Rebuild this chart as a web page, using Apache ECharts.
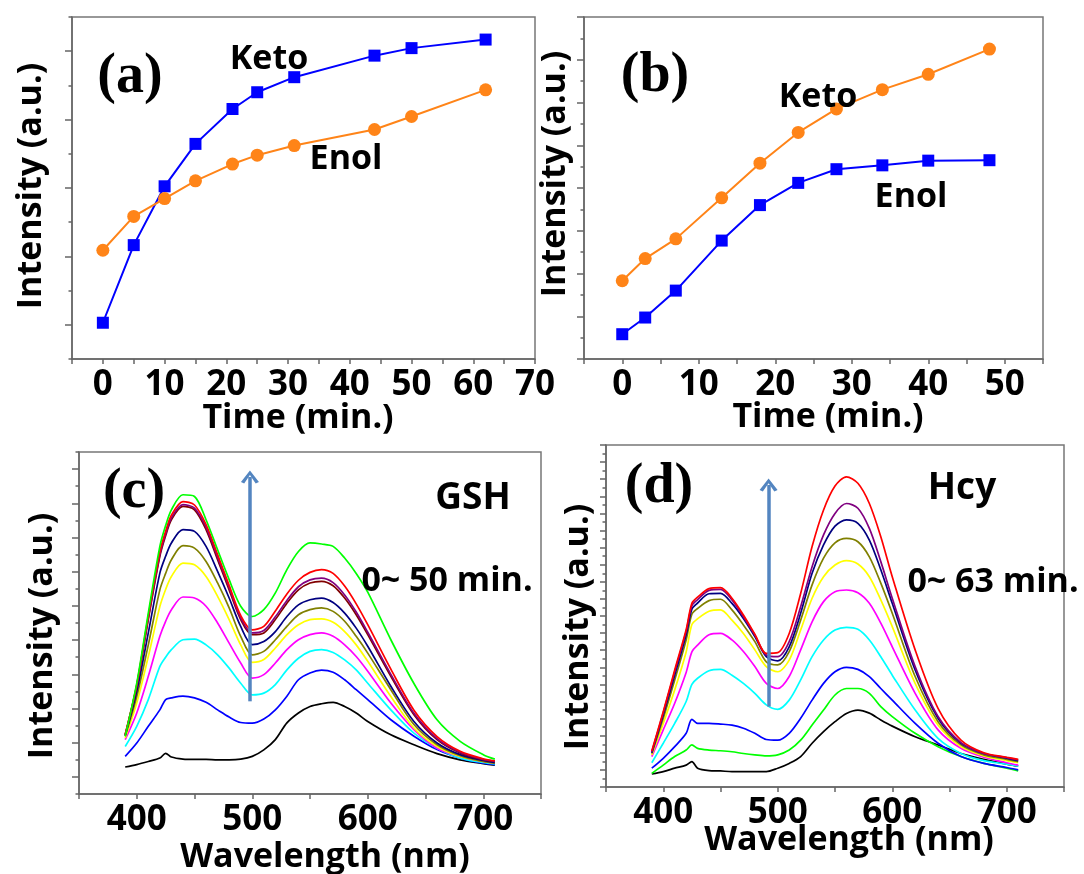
<!DOCTYPE html>
<html lang="en">
<head>
<meta charset="UTF-8">
<title>Keto / Enol</title>
<script src="https://cdn.jsdelivr.net/npm/echarts@6/dist/echarts.min.js"></script>
<style>
    html, body { margin: 0; padding: 0; background: #fff; }
    #main { width: 1084px; height: 874px; }
</style>
</head>
<body>
<div id="main"></div>
<script>
// (a) and (b): intensity against time, arbitrary units
var timeA = [0, 5, 10, 15, 21, 25, 31, 44, 50, 62];
var ketoA = [1.06, 3.33, 5.05, 6.29, 7.31, 7.80, 8.24, 8.87, 9.09, 9.34];
var enolA = [3.18, 4.17, 4.69, 5.21, 5.70, 5.96, 6.24, 6.71, 7.09, 7.87];

var timeB = [0, 3, 7, 13, 18, 23, 28, 34, 40, 48];
var ketoB = [1.83, 2.35, 2.81, 3.77, 4.58, 5.30, 5.85, 6.30, 6.66, 7.25];
var enolB = [0.58, 0.97, 1.60, 2.77, 3.60, 4.12, 4.44, 4.53, 4.64, 4.65];

// (c) and (d): emission spectra, sampled wavelengths (nm)
var wl = [390, 400, 410, 420, 425, 430, 440, 450, 460, 470, 480, 490, 500, 510, 520,
          530, 540, 550, 560, 570, 580, 590, 600, 620, 640, 660, 680, 700, 710];

var gshBlack   = [0.79,0.86,0.95,1.05,1.19,1.08,1.02,1.01,1.01,1.00,1.00,1.02,1.10,1.29,1.59,2.08,2.37,2.56,2.64,2.68,2.56,2.37,2.12,1.73,1.44,1.18,1.00,0.89,0.84];
var gshBlue    = [1.10,1.49,1.98,2.46,2.76,2.81,2.86,2.81,2.68,2.46,2.25,2.09,2.07,2.19,2.46,2.86,3.34,3.54,3.62,3.56,3.34,3.05,2.76,2.17,1.69,1.30,1.05,0.90,0.86];
var gshCyan    = [1.39,1.98,2.76,3.73,4.00,4.22,4.51,4.53,4.36,4.07,3.68,3.24,2.90,2.95,3.20,3.63,3.97,4.17,4.22,4.14,3.92,3.63,3.24,2.46,1.78,1.34,1.05,0.92,0.88];
var gshMagenta = [1.59,2.37,3.44,4.61,5.05,5.39,5.76,5.73,5.49,5.00,4.41,3.83,3.39,3.49,3.83,4.22,4.51,4.66,4.71,4.61,4.36,4.02,3.59,2.66,1.88,1.34,1.10,0.95,0.90];
var gshYellow  = [1.64,2.66,4.02,5.48,5.98,6.36,6.75,6.70,6.36,5.78,5.10,4.36,3.85,3.93,4.27,4.66,4.95,5.10,5.12,5.02,4.75,4.36,3.88,2.85,1.93,1.39,1.10,0.95,0.90];
var gshOlive   = [1.69,2.85,4.36,5.97,6.45,6.85,7.26,7.19,6.80,6.17,5.44,4.61,4.07,4.17,4.51,4.90,5.24,5.39,5.44,5.34,5.05,4.61,4.12,3.05,2.03,1.44,1.12,0.95,0.90];
var gshNavy    = [1.71,3.00,4.71,6.46,6.95,7.34,7.73,7.68,7.24,6.51,5.73,4.90,4.37,4.46,4.75,5.19,5.53,5.68,5.73,5.60,5.29,4.85,4.32,3.15,2.12,1.49,1.15,0.98,0.92];
var gshBrown   = [1.73,3.15,5.10,6.95,7.55,8.02,8.41,8.31,7.73,6.85,5.97,5.10,4.66,4.71,5.10,5.58,5.97,6.17,6.22,6.09,5.73,5.24,4.66,3.44,2.32,1.59,1.20,1.00,0.95];
var gshPurple  = [1.73,3.17,5.15,7.00,7.60,8.07,8.46,8.36,7.80,6.92,6.03,5.15,4.71,4.78,5.18,5.66,6.06,6.26,6.31,6.18,5.82,5.32,4.73,3.50,2.36,1.62,1.22,1.01,0.96];
var gshRed     = [1.74,3.20,5.20,7.08,7.68,8.15,8.55,8.45,7.88,7.00,6.10,5.22,4.80,4.90,5.35,5.85,6.25,6.48,6.56,6.45,6.08,5.56,4.95,3.65,2.45,1.68,1.25,1.03,0.97];
var gshGreen   = [1.69,3.24,5.29,7.24,7.85,8.31,8.75,8.70,8.02,7.14,6.27,5.49,5.19,5.39,5.88,6.56,7.09,7.34,7.31,7.24,6.90,6.45,5.90,4.51,3.23,2.17,1.54,1.15,1.02];

var hcyBlack   = [0.38,0.45,0.55,0.64,0.74,0.55,0.48,0.47,0.45,0.45,0.45,0.45,0.55,0.69,0.89,1.28,1.62,1.91,2.15,2.25,2.16,1.96,1.78,1.47,1.23,0.98,0.81,0.67,0.61];
var hcyGreen   = [0.40,0.64,0.89,1.08,1.23,1.13,1.08,1.06,1.03,0.98,0.94,0.91,0.94,1.08,1.37,1.81,2.25,2.69,2.88,2.88,2.74,2.35,2.06,1.57,1.18,0.89,0.69,0.55,0.47];
var hcyBlue    = [0.55,0.84,1.18,1.57,1.98,1.86,1.86,1.84,1.81,1.72,1.57,1.39,1.37,1.57,2.01,2.54,3.03,3.37,3.50,3.44,3.23,2.88,2.54,1.86,1.28,0.89,0.69,0.57,0.50];
var hcyCyan    = [0.71,1.28,1.86,2.50,3.00,3.18,3.40,3.44,3.27,3.03,2.74,2.40,2.27,2.54,3.13,3.81,4.30,4.59,4.67,4.61,4.30,3.81,3.27,2.25,1.42,0.98,0.77,0.67,0.61];
var hcyMagenta = [0.89,1.67,2.45,3.35,3.95,4.15,4.45,4.49,4.30,3.96,3.52,3.03,2.88,3.23,4.01,4.83,5.42,5.71,5.76,5.68,5.37,4.79,4.10,2.74,1.67,1.13,0.87,0.71,0.64];
var hcyYellow  = [0.94,1.86,2.84,3.95,4.75,4.92,5.14,5.18,4.88,4.49,4.01,3.52,3.37,3.71,4.59,5.52,6.15,6.49,6.62,6.52,6.15,5.47,4.69,3.03,1.81,1.18,0.91,0.77,0.71];
var hcyOlive   = [0.98,2.01,3.13,4.30,5.05,5.22,5.45,5.49,5.18,4.74,4.25,3.66,3.57,3.96,4.88,5.91,6.69,7.14,7.27,7.17,6.73,5.96,5.08,3.23,1.91,1.23,0.94,0.81,0.74];
var hcyNavy    = [1.00,2.11,3.27,4.45,5.20,5.38,5.65,5.66,5.37,4.93,4.40,3.81,3.69,4.10,5.08,6.25,7.08,7.63,7.81,7.71,7.22,6.35,5.37,3.42,2.01,1.28,0.98,0.84,0.77];
var hcyPurple  = [1.03,2.17,3.37,4.55,5.30,5.48,5.75,5.78,5.47,4.98,4.44,3.86,3.81,4.25,5.27,6.44,7.37,8.00,8.29,8.15,7.56,6.59,5.52,3.52,2.06,1.30,0.98,0.86,0.79];
var hcyRed     = [1.05,2.20,3.42,4.60,5.37,5.55,5.80,5.83,5.52,5.03,4.47,3.91,3.93,4.49,5.66,7.03,8.10,8.80,9.07,8.88,8.29,7.32,6.15,4.01,2.30,1.37,1.00,0.87,0.81];

var gshCurves = [
    [gshBlack, '#000000'], [gshBlue, '#0000ff'], [gshCyan, '#00ffff'], [gshMagenta, '#ff00ff'],
    [gshYellow, '#ffff00'], [gshOlive, '#808000'], [gshNavy, '#000080'], [gshBrown, '#800000'],
    [gshPurple, '#800080'], [gshRed, '#ff0000'], [gshGreen, '#00ff00']
];
var hcyCurves = [
    [hcyBlack, '#000000'], [hcyGreen, '#00ff00'], [hcyBlue, '#0000ff'], [hcyCyan, '#00ffff'],
    [hcyMagenta, '#ff00ff'], [hcyYellow, '#ffff00'], [hcyOlive, '#808000'], [hcyNavy, '#000080'],
    [hcyPurple, '#800080'], [hcyRed, '#ff0000']
];

// arrows (data coords): wavelength, from, to
var arrowC = [498, 2.71, 9.27];
var arrowD = [492, 2.35, 8.83];

var axisColor = '#666';
var sans = 'Open Sans';
var tickFont = { fontSize: 35, fontWeight: 'bold', fontFamily: sans, color: '#000', margin: 9 };

function pairs(xs, ys) {
    return xs.map(function (x, i) { return [x, ys[i]]; });
}

function xAxisOf(grid, min, max, interval, step) {
    return {
        type: 'value', gridIndex: grid, min: min, max: max, interval: interval,
        axisLine: { onZero: false, lineStyle: { color: axisColor, width: 1.5 } },
        axisTick: { length: 5, lineStyle: { color: axisColor, width: 1.5 } },
        axisLabel: Object.assign({
            formatter: function (v) { return (v >= 0 && v % step === 0) ? String(v) : ''; }
        }, tickFont),
        splitLine: { show: false }
    };
}

function yAxisOf(grid, max, interval, tickLen, minorLen) {
    return {
        type: 'value', gridIndex: grid, min: 0, max: max, interval: interval,
        axisLine: { show: true, onZero: false, lineStyle: { color: axisColor, width: 1.5 } },
        axisTick: { show: true, length: tickLen, lineStyle: { color: axisColor, width: 1.5 } },
        minorTick: { show: true, splitNumber: 2, length: minorLen, lineStyle: { color: axisColor, width: 1.5 } },
        axisLabel: { show: false },
        splitLine: { show: false },
        minorSplitLine: { show: false }
    };
}

function gridOf(left, top, width, height) {
    return { left: left, top: top, width: width, height: height, show: true,
             borderColor: '#777', borderWidth: 1.5, backgroundColor: 'transparent' };
}

var series = [
    { type: 'line', xAxisIndex: 0, yAxisIndex: 0, data: pairs(timeA, ketoA),
      symbol: 'rect', symbolSize: 12, itemStyle: { color: '#0000ff' }, lineStyle: { color: '#0000ff', width: 2 } },
    { type: 'line', xAxisIndex: 0, yAxisIndex: 0, data: pairs(timeA, enolA),
      symbol: 'circle', symbolSize: 13, itemStyle: { color: '#ff8418' }, lineStyle: { color: '#ff8418', width: 2 } },
    { type: 'line', xAxisIndex: 1, yAxisIndex: 1, data: pairs(timeB, ketoB),
      symbol: 'circle', symbolSize: 13, itemStyle: { color: '#ff8418' }, lineStyle: { color: '#ff8418', width: 2 } },
    { type: 'line', xAxisIndex: 1, yAxisIndex: 1, data: pairs(timeB, enolB),
      symbol: 'rect', symbolSize: 12, itemStyle: { color: '#0000ff' }, lineStyle: { color: '#0000ff', width: 2 } }
];

function addSpectra(curves, idx) {
    curves.forEach(function (c) {
        series.push({
            type: 'line', xAxisIndex: idx, yAxisIndex: idx, data: pairs(wl, c[0]),
            showSymbol: false, smooth: 0.3, lineStyle: { color: c[1], width: 1.7 }
        });
    });
}
addSpectra(gshCurves, 2);
addSpectra(hcyCurves, 3);

function arrowSeries(idx, a) {
    return {
        type: 'line', xAxisIndex: idx, yAxisIndex: idx, data: [], z: 5,
        markLine: {
            silent: true, animation: false,
            symbol: ['none', 'path://M0,10 L5,0 L10,10 L8.2,11.2 L5,4 L1.8,11.2 Z'],
            symbolSize: [18, 13],
            lineStyle: { color: '#5385c0', width: 3.5, type: 'solid' },
            emphasis: { disabled: true },
            label: { show: false },
            data: [[{ coord: [a[0], a[1]] }, { coord: [a[0], a[2]] }]]
        }
    };
}
series.push(arrowSeries(2, arrowC));
series.push(arrowSeries(3, arrowD));

function txt(x, y, s, size, family, rot) {
    return {
        type: 'text', x: x, y: y, rotation: rot || 0, z: 10,
        style: { text: s, fontSize: size, fontWeight: 'bold', fontFamily: family || sans,
                 fill: '#000', align: 'center', verticalAlign: 'middle' }
    };
}
var serif = 'Liberation Serif';

var chart = echarts.init(document.getElementById('main'));
chart.setOption({
    animation: false,
    grid: [
        gridOf(72, 17, 463, 342),
        gridOf(584, 17, 459, 342),
        gridOf(79, 452, 462, 342),
        gridOf(606, 445, 458, 342)
    ],
    xAxis: [
        xAxisOf(0, -5, 70, 5, 10),
        xAxisOf(1, -5, 55, 5, 10),
        xAxisOf(2, 350, 750, 50, 100),
        xAxisOf(3, 350, 750, 50, 100)
    ],
    yAxis: [
        yAxisOf(0, 10, 2, 3.5, 7),
        yAxisOf(1, 8, 1, 7, 3.5),
        yAxisOf(2, 10, 1, 3.5, 7),
        yAxisOf(3, 10, 0.5, 6, 3.5)
    ],
    series: series,
    graphic: [
        txt(130, 78, '(a)', 56, serif),
        txt(269, 59, 'Keto', 34),
        txt(346, 159, 'Enol', 34),
        txt(31, 186, 'Intensity (a.u.)', 34, sans, Math.PI / 2),
        txt(298, 418, 'Time (min.)', 34),

        txt(655, 77, '(b)', 56, serif),
        txt(818, 97, 'Keto', 34),
        txt(911, 197, 'Enol', 34),
        txt(555, 174, 'Intensity (a.u.)', 34, sans, Math.PI / 2),
        txt(828, 417, 'Time (min.)', 34),

        txt(134, 493, '(c)', 56, serif),
        txt(473, 498, 'GSH', 37),
        txt(447, 581, '0~ 50 min.', 34),
        txt(42, 636, 'Intensity (a.u.)', 34, sans, Math.PI / 2),
        txt(325, 857, 'Wavelength (nm)', 34),

        txt(659, 488, '(d)', 56, serif),
        txt(962, 488, 'Hcy', 37),
        txt(993, 582, '0~ 63 min.', 34),
        txt(578, 627, 'Intensity (a.u.)', 34, sans, Math.PI / 2),
        txt(849, 840, 'Wavelength (nm)', 34)
    ]
});
</script>
</body>
</html>
